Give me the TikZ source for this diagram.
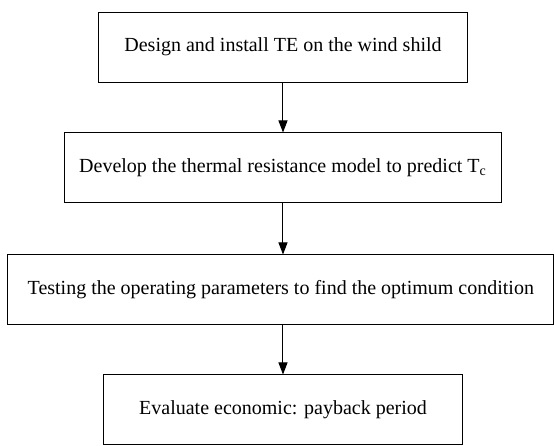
\documentclass[tikz,border=0pt]{standalone}
\usepackage{fontspec}
\setmainfont{Liberation Serif}
\usetikzlibrary{arrows.meta}

\begin{document}
\begin{tikzpicture}[
    x=1pt, y=1pt,
    stepbox/.style={draw, line width=0.5pt, minimum height=35pt, inner xsep=10pt,
        font=\fontsize{10}{12}\selectfont},
    flow/.style={-{Triangle[length=6pt,width=4.5pt]}, line width=0.5pt}
]
    \useasboundingbox (0,0) rectangle (277,223);

    % Process steps, top to bottom
    \node[stepbox, inner xsep=13pt] (design) at (141.5,199.5) {Design and install TE on the wind shild};
    \node[stepbox, inner xsep=7.5pt] (model) at (141.5,139) {Develop the thermal resistance model to predict T\textsubscript{c}};
    \node[stepbox, minimum width=272pt] (testing) at (140.4,78) {Testing the operating parameters to find the optimum condition};
    \node[stepbox, inner xsep=18pt] (payback) at (141.5,18) {Evaluate economic: payback period};

    % Arrows between the steps
    \draw[flow] (design.south) -- (design.south |- model.north);
    \draw[flow] (model.south) -- (model.south |- testing.north);
    \draw[flow] (model.south |- testing.south) -- (payback.north);
\end{tikzpicture}
\end{document}
